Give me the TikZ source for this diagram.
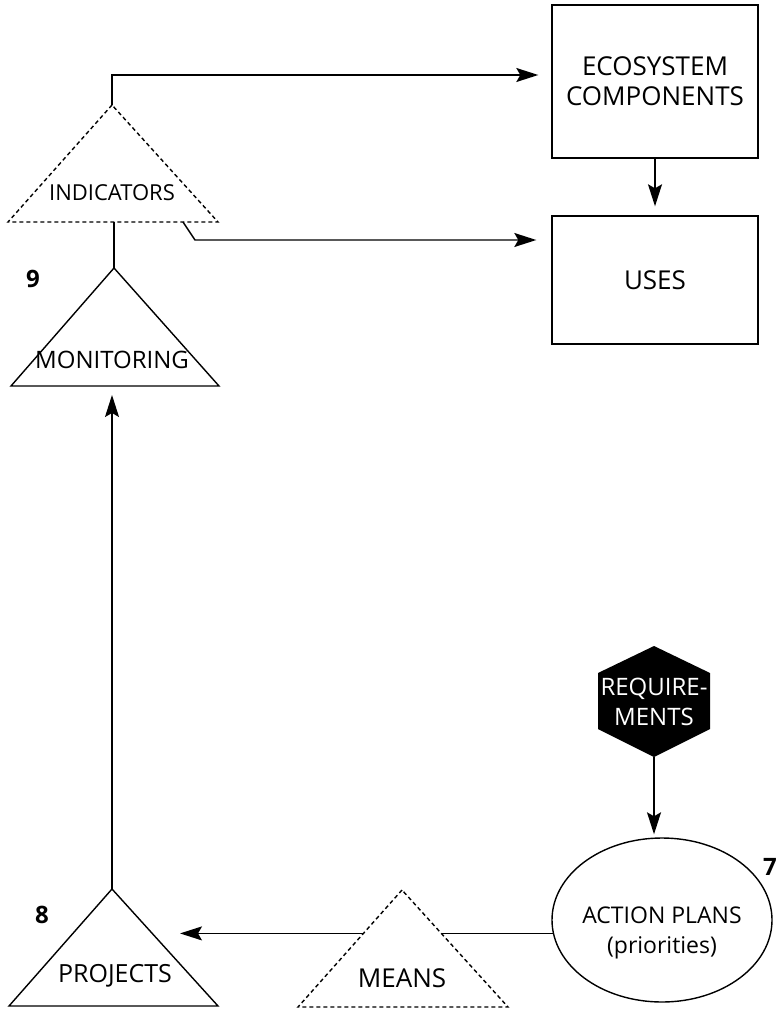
\documentclass[tikz,border=0pt]{standalone}
\usepackage{fontspec}
\setmainfont{Open Sans}
\usetikzlibrary{arrows.meta,shapes.geometric}

\tikzset{
	box/.style={draw, line width=0.7pt, minimum width=103pt, inner sep=0pt, align=center, font=\fontsize{13}{15}\selectfont},
	plan/.style={draw, ellipse, line width=0.7pt, minimum width=110pt, minimum height=82pt, inner sep=0pt},
	txt/.style={inner sep=0pt, align=center, font=\fontsize{12}{15}\selectfont},
	num/.style={inner sep=0pt, font=\fontsize{12}{14}\selectfont\bfseries},
	tri/.style={line width=0.7pt, fill=white},
	dashtri/.style={tri, dash pattern=on 2pt off 1.5pt},
	link/.style={line width=0.7pt},
	arr/.style={link, -{Stealth[length=11pt,width=7pt,inset=2pt]}}
}

\begin{document}
\begin{tikzpicture}[x=0.5pt,y=-0.5pt]
	\useasboundingbox (0,0) rectangle (779,1011);

	\node[box, minimum height=76.5pt] (eco) at (655,81.5) {ECOSYSTEM\\COMPONENTS};
	\node[box, minimum height=64pt] (uses) at (655,280) {USES};

	\coordinate (ind top) at (112,105);
	\coordinate (ind foot) at (114,222);
	\coordinate (ind link) at (183,222);
	\coordinate (ind bend) at (195,240);
	\draw[dashtri] (ind top) -- (8,222) -- (218,222) -- cycle;
	\node[txt, font=\fontsize{11}{13}\selectfont] (ind) at (112,193) {INDICATORS};

	\coordinate (mon top) at (114,268);
	\coordinate (mon foot) at (112,386);
	\draw[tri] (mon top) -- (11,386) -- (219,386) -- cycle;
	\node[txt] (mon) at (112,360) {MONITORING};
	\node[num] (nine) at (33,279) {9};

	\fill (654,646) -- ++(56,27) -- ++(0,56) -- ++(-56,28) -- ++(-56,-28) -- ++(0,-56) -- cycle;
	\coordinate (req bot) at (654,757);
	\node[txt, text=white] (req) at (654,702) {REQUIRE-\\MENTS};

	\node[plan] (act) at (662,920) {};
	\node[txt, font=\fontsize{11.5}{15}\selectfont] (act lbl) at (662,933) {ACTION PLANS\\(priorities)};
	\node[num] (seven) at (770,867) {7};

	\coordinate (proj top) at (112,889);
	\coordinate (proj in) at (180,933);
	\draw[tri] (proj top) -- (9,1006) -- (218,1006) -- cycle;
	\node[txt, font=\fontsize{12.5}{15}\selectfont] (proj) at (115,976) {PROJECTS};
	\node[num] (eight) at (42,915) {8};

	\draw[arr, shorten >=6.5pt] (ind top) |- ([yshift=3.25pt]eco.west);
	\draw[arr, shorten >=7.5pt] (ind link) -- (ind bend) -- (ind bend -| uses.west);
	\draw[arr, shorten >=4.5pt] (eco.south) -- (uses.north);
	\draw[link] (ind foot) -- (mon top);
	\draw[arr, shorten >=4.5pt] (proj top) -- (mon foot);
	\draw[arr, shorten >=1.5pt] (req bot) -- (req bot |- act.north);
	\draw[arr] (act.187) -- (act.187 -| proj in);

	\draw[dashtri] (402,890) -- (298,1007) -- (508,1007) -- cycle;
	\node[txt, font=\fontsize{13}{15}\selectfont] (means) at (402,978) {MEANS};
\end{tikzpicture}
\end{document}
